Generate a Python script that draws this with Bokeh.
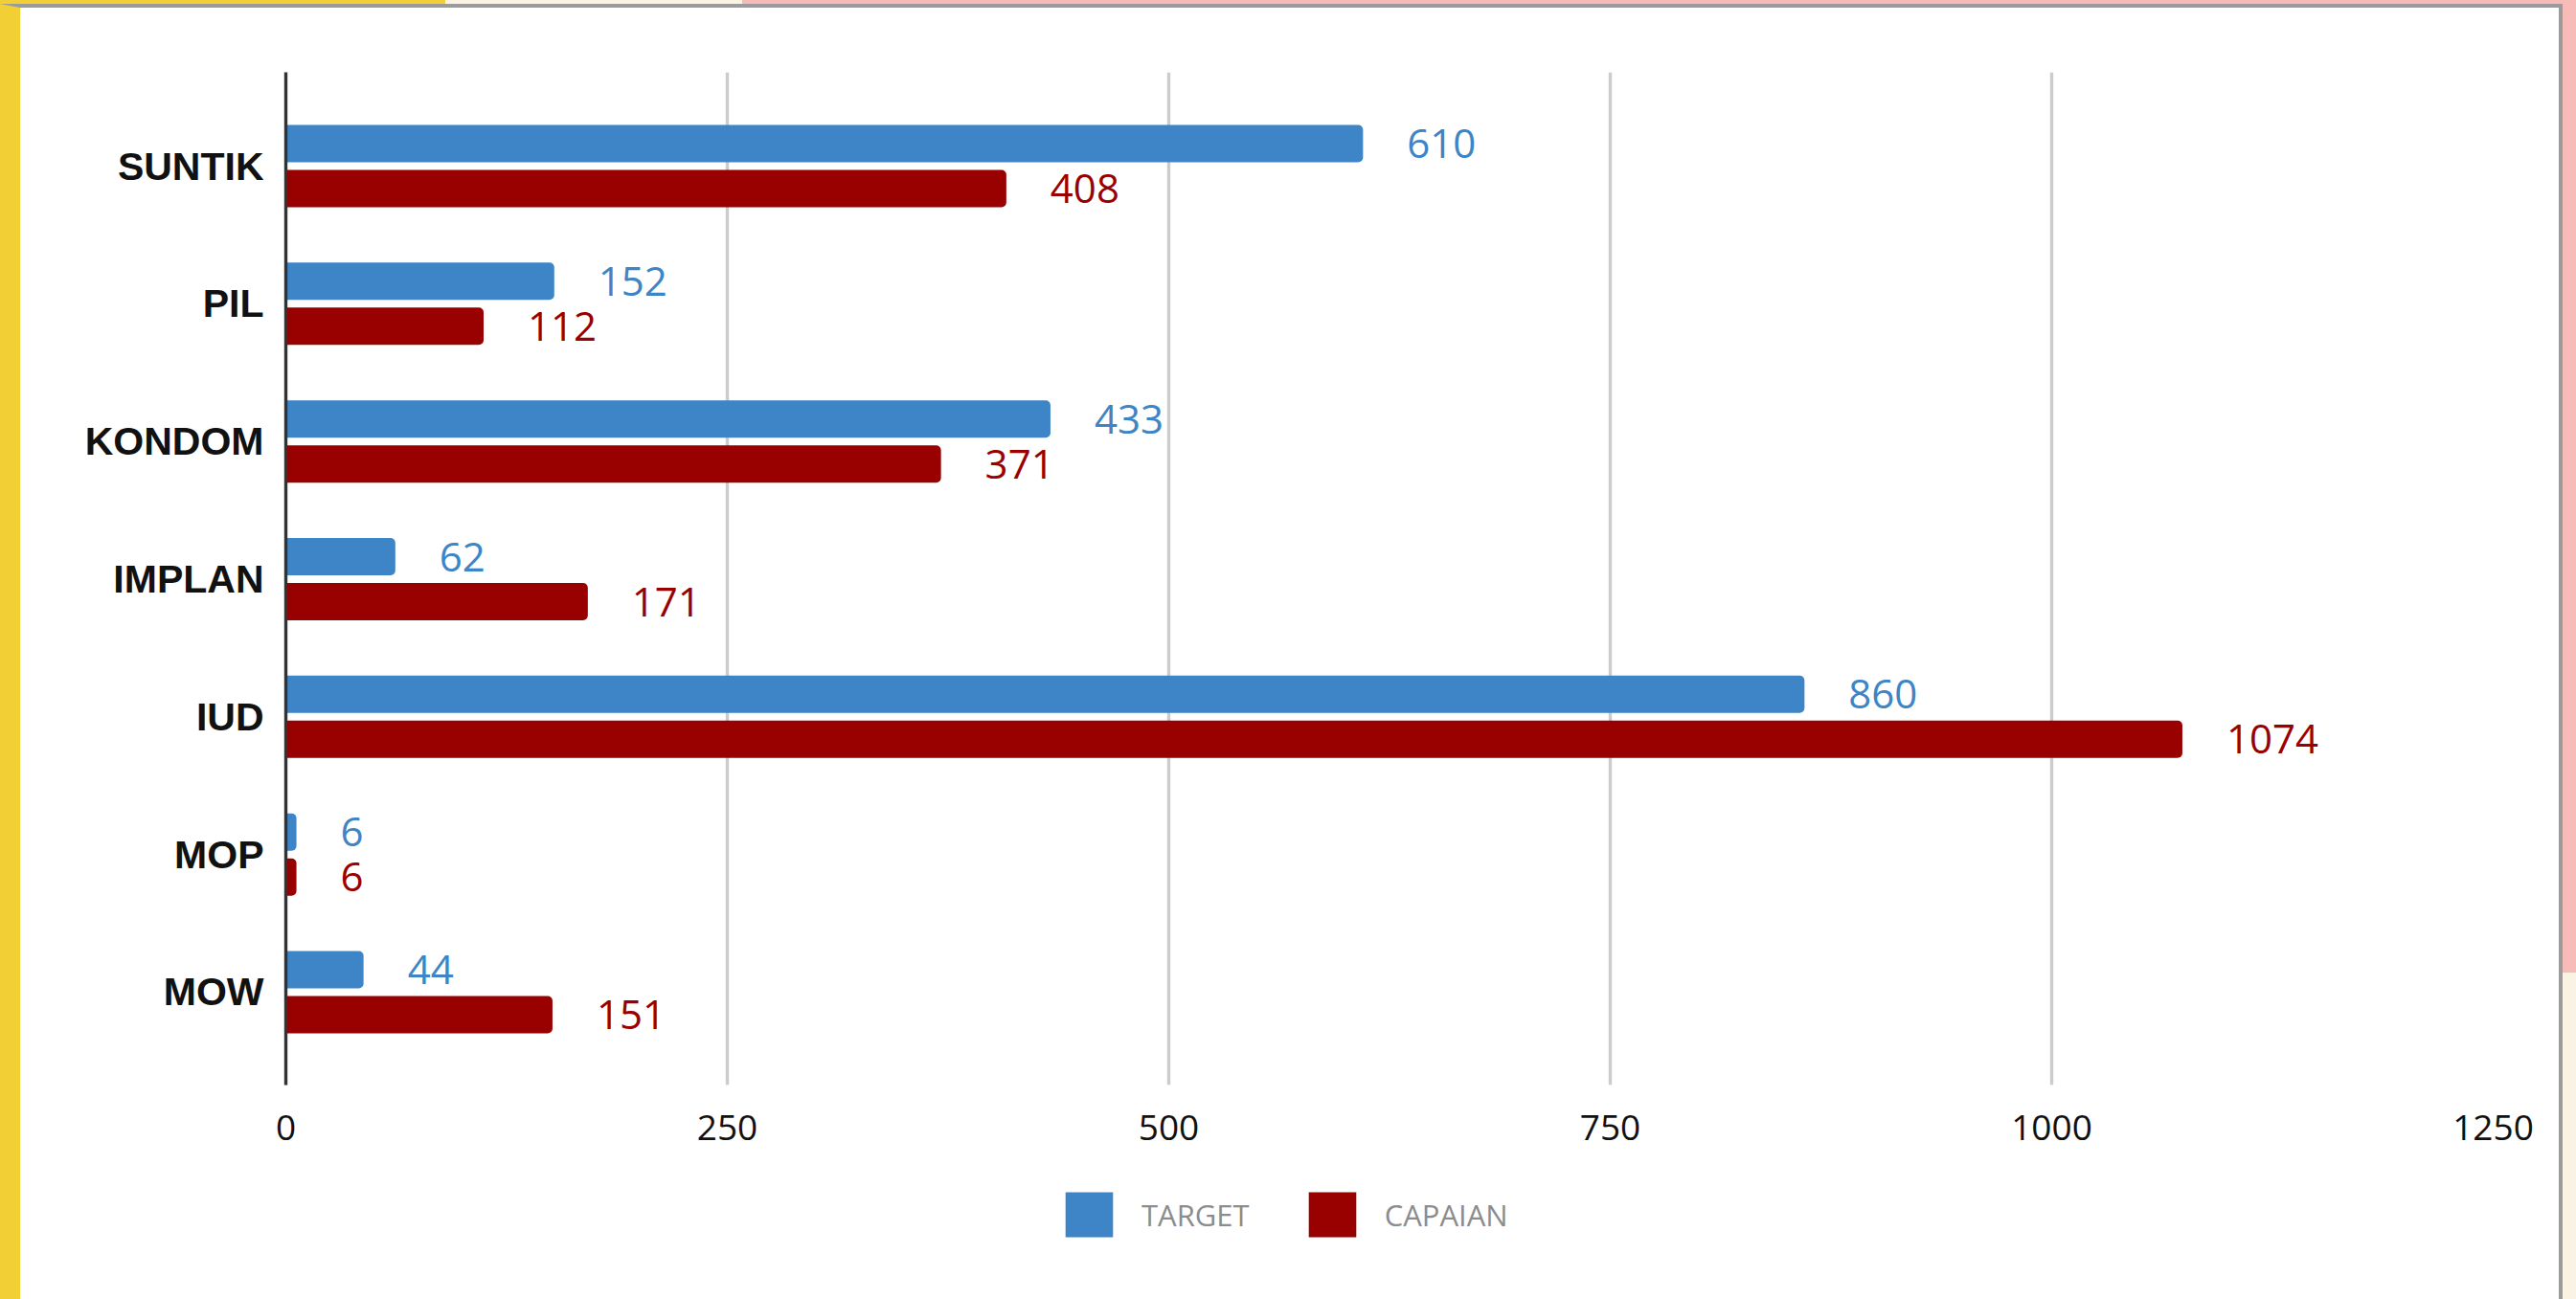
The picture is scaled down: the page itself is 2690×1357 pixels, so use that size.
from bokeh.plotting import figure
from bokeh.layouts import column
from bokeh.models import ColumnDataSource, Range1d, FixedTicker, Legend, LegendItem
from bokeh.embed import file_html
from bokeh.resources import INLINE
from bokeh.core.properties import value
from bokeh.transform import dodge

# ---- data ----
categories = ["SUNTIK", "PIL", "KONDOM", "IMPLAN", "IUD", "MOP", "MOW"]
target = [610, 152, 433, 62, 860, 6, 44]
capaian = [408, 112, 371, 171, 1074, 6, 151]
series_names = ["TARGET", "CAPAIAN"]
x_ticks = [0, 250, 500, 750, 1000, 1250]

BLUE = "#3d85c6"
RED = "#990000"
FONT = "Open Sans"

n = len(categories)
ypos = [n - 1 - i for i in range(n)]

src = ColumnDataSource(dict(
    cat=categories, y=ypos, target=target, capaian=capaian,
    tl=[str(v) for v in target], cl=[str(v) for v in capaian],
))

W = 2651
H_MAIN = 1222
H_LEG = 127

p = figure(
    width=W, height=H_MAIN,
    x_range=Range1d(0, 1250),
    y_range=Range1d(-0.6745, n - 1 + 0.6815),
    output_backend="svg", toolbar_location=None,
    min_border_left=277, min_border_right=69,
    min_border_top=67, min_border_bottom=H_MAIN - 67 - 1058,
)
p.background_fill_color = "white"
p.border_fill_color = "white"
p.outline_line_color = None

off = 0.1634
bh = 0.271

rt = p.hbar(y=dodge("y", off), left=0, right="target", height=bh, source=src,
            fill_color=BLUE, line_color=None, border_radius=(0, 5, 5, 0))
rc = p.hbar(y=dodge("y", -off), left=0, right="capaian", height=bh, source=src,
            fill_color=RED, line_color=None, border_radius=(0, 5, 5, 0))

p.text(x="target", y=dodge("y", off), text="tl", source=src, x_offset=46,
       text_baseline="middle", text_align="left", text_font=value(FONT),
       text_font_size="42px", text_color=BLUE)
p.text(x="capaian", y=dodge("y", -off), text="cl", source=src, x_offset=46,
       text_baseline="middle", text_align="left", text_font=value(FONT),
       text_font_size="42px", text_color=RED)

# x axis
p.xaxis.ticker = FixedTicker(ticks=x_ticks)
p.xaxis.axis_line_color = None
p.xaxis.major_tick_line_color = None
p.xaxis.minor_tick_line_color = None
p.xaxis.major_tick_out = 0
p.xaxis.major_tick_in = 0
p.xaxis.major_label_standoff = 31
p.xaxis.major_label_text_font = FONT
p.xaxis.major_label_text_font_size = "37px"
p.xaxis.major_label_text_color = "#111111"

p.xgrid.ticker = FixedTicker(ticks=x_ticks)
p.xgrid.grid_line_color = "#cccccc"
p.xgrid.grid_line_width = 3.4
p.ygrid.visible = False

# y axis
p.yaxis.ticker = FixedTicker(ticks=ypos)
p.yaxis.major_label_overrides = {y: c for y, c in zip(ypos, categories)}
p.yaxis.axis_line_color = "#333333"
p.yaxis.axis_line_width = 3.4
p.yaxis.major_tick_line_color = None
p.yaxis.minor_tick_line_color = None
p.yaxis.major_tick_out = 0
p.yaxis.major_tick_in = 0
p.yaxis.major_label_standoff = 23
p.yaxis.major_label_text_font = "Liberation Sans"
p.yaxis.major_label_text_font_style = "bold"
p.yaxis.major_label_text_font_size = "41px"
p.yaxis.major_label_text_color = "#111111"

# ---- legend strip (separate figure under the chart) ----
pl = figure(
    width=W, height=H_LEG, x_range=Range1d(0, 1), y_range=Range1d(100, 101),
    output_backend="svg", toolbar_location=None,
    x_axis_location=None, y_axis_location=None,
    min_border_left=0, min_border_right=0, min_border_top=0, min_border_bottom=0,
)
pl.outline_line_color = None
pl.xgrid.visible = False
pl.ygrid.visible = False
lt = pl.hbar(y="y", right="target", left=0, height=bh, source=src,
             fill_color=BLUE, line_color=None)
lc = pl.hbar(y="y", right="capaian", left=0, height=bh, source=src,
             fill_color=RED, line_color=None)

legend = Legend(
    items=[LegendItem(label=series_names[0], renderers=[lt]),
           LegendItem(label=series_names[1], renderers=[lc])],
    location=(808, 59), orientation="horizontal",
    glyph_width=62, glyph_height=59, label_standoff=24, spacing=55,
    padding=0, margin=0, border_line_color=None, background_fill_alpha=0,
    label_text_font=FONT, label_text_font_size="31px", label_text_color="#8c8c8c",
)
pl.add_layout(legend)

layout = column(p, pl, spacing=0, styles={
    "border-left": "21px solid #f2d035",
    "border-top": "4px solid #9b9b9b",
    "border-right": "4px solid #9b9b9b",
    "margin-top": "4px",
    "box-shadow": ("-2211px -4px 0 0 #f2d035, -1901px -4px 0 0 #faf3e3, "
                   "14px 1012px 0 0 #faf3e3, 14px -4px 0 0 #f8bcb8"),
})
open("out.html", "w").write(file_html(layout, INLINE))
